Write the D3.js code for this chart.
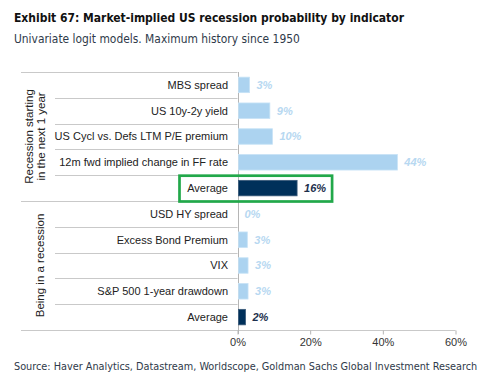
<!DOCTYPE html>
<html>
<head>
<meta charset="utf-8">
<script src="https://cdn.jsdelivr.net/npm/d3@7"></script>
<style>
  body { margin: 0; background: #fff; }
  svg { display: block; }
</style>
</head>
<body>
<div id="chart"></div>
<script>
// data
var groups = ["Recession starting|in the next 1 year", "Being in a recession"];
var categories = ["MBS spread", "US 10y-2y yield", "US Cycl vs. Defs LTM P/E premium",
  "12m fwd implied change in FF rate", "Average",
  "USD HY  spread", "Excess Bond Premium", "VIX", "S&P 500 1-year drawdown", "Average"];
var values = [3.3, 8.9, 9.6, 44.0, 16.4, 0, 2.7, 2.9, 2.9, 2.2];
var groupIndex = [0, 0, 0, 0, 0, 1, 1, 1, 1, 1];
var isAverage = [false, false, false, false, true, false, false, false, false, true];
var tickValues = [0, 20, 40, 60];

var width = 493, height = 376;
var light = "#acd3f0", dark = "#00305a";
var narrow = "'Liberation Sans Narrow', 'DejaVu Sans Condensed', Roboto, sans-serif";

var svg = d3.select("#chart").append("svg")
  .attr("width", width)
  .attr("height", height);

// put a text in and shrink/grow its font so it spans the wanted width
function fitText(str, xPos, yPos, targetW, size, weight, fill) {
  var t = svg.append("text")
    .attr("x", xPos).attr("y", yPos)
    .style("font-family", narrow)
    .style("font-size", size + "px").style("font-weight", weight)
    .attr("fill", fill)
    .text(str);
  var w = t.node().getComputedTextLength();
  if (w > 0) t.style("font-size", (size * targetW / w).toFixed(2) + "px");
  return t;
}

// titles
fitText("Exhibit 67: Market-implied US recession probability by indicator", 14, 22, 390, 15, 700, "#111");
fitText("Univariate logit models. Maximum history since 1950", 14, 43, 286, 13, 400, "#2f3a4a");
fitText("Source: Haver Analytics, Datastream, Worldscope, Goldman Sachs Global Investment Research", 14, 370, 464, 12, 400, "#2f3a4a");

// scales
var keys = categories.map((c, i) => i);
var x = d3.scaleLinear().domain([0, 60]).range([237.5, 455.5]);
var y = d3.scaleBand().domain(keys).range([72, 330]).paddingInner(0.4).paddingOuter(0.2);
var step = y.step();
var rowTop = i => 72 + i * step;

var font = "'Liberation Sans', Arial, sans-serif";

// row separators
var grid = svg.append("g").attr("stroke", "#c9c9c9").attr("stroke-width", 1);
for (var i = 0; i <= categories.length; i++) {
  var yy = Math.round(rowTop(i)) + 0.5;
  var groupEdge = i === 0 || i === categories.length || groupIndex[i] !== groupIndex[i - 1];
  grid.append("line")
    .attr("x1", groupEdge ? 21 : 55)
    .attr("x2", i === categories.length ? x(60) : x(0))
    .attr("y1", yy).attr("y2", yy);
}

// x axis ticks and labels
var axis = svg.append("g")
  .attr("transform", `translate(0, ${Math.round(rowTop(categories.length)) + 0.5})`)
  .call(d3.axisBottom(x).tickValues(tickValues).tickSize(4).tickPadding(4)
    .tickFormat(d => d + "%"));
axis.select(".domain").remove();
axis.selectAll(".tick line").attr("stroke", "#b5b5b5");
axis.selectAll(".tick text")
  .style("font-family", font).style("font-size", "11px").attr("fill", "#333");

// vertical zero line
svg.append("line")
  .attr("x1", Math.round(x(0)) + 0.5).attr("x2", Math.round(x(0)) + 0.5)
  .attr("y1", 72).attr("y2", rowTop(categories.length) + 4)
  .attr("stroke", "#b5b5b5");

// bars
svg.selectAll("rect.bar")
  .data(keys)
  .enter()
  .append("rect")
    .attr("class", "bar")
    .attr("x", x(0) + 1)
    .attr("y", i => y(i))
    .attr("width", i => Math.max(0, x(values[i]) - x(0) - 1))
    .attr("height", y.bandwidth())
    .attr("fill", i => isAverage[i] ? dark : light)
    .attr("stroke", i => isAverage[i] ? "#3a5a7a" : "#c6e2f6")
    .attr("stroke-width", 0.8);

// value labels
svg.selectAll("text.value")
  .data(keys)
  .enter()
  .append("text")
    .attr("class", "value")
    .attr("x", i => x(values[i]) + 7)
    .attr("y", i => y(i) + y.bandwidth() / 2)
    .attr("dy", "0.35em")
    .style("font-family", font).style("font-size", "11px")
    .style("font-weight", "700").style("font-style", "italic")
    .attr("fill", i => isAverage[i] ? "#1c2f4c" : "#b7d8f1")
    .text(i => d3.format(".0%")(values[i] / 100));

// category labels
svg.selectAll("text.cat")
  .data(keys)
  .enter()
  .append("text")
    .attr("class", "cat")
    .attr("x", 228)
    .attr("y", i => y(i) + y.bandwidth() / 2)
    .attr("dy", "0.35em")
    .attr("text-anchor", "end")
    .style("font-family", font).style("font-size", "11px")
    .attr("fill", "#222")
    .text(i => categories[i]);

// group labels (rotated)
groups.forEach(function(g, gi) {
  var rows = keys.filter(i => groupIndex[i] === gi);
  var cy = (rowTop(rows[0]) + rowTop(rows[rows.length - 1] + 1)) / 2;
  var lines = g.split("|");
  var t = svg.append("text")
    .attr("transform", `translate(0, ${cy}) rotate(-90)`)
    .attr("text-anchor", "middle")
    .style("font-family", font).style("font-size", "11.5px")
    .attr("fill", "#222");
  lines.forEach(function(l, li) {
    t.append("tspan")
      .attr("x", 0)
      .attr("y", lines.length === 1 ? 44 : 33 + li * 12)
      .text(l);
  });
});

// green highlight round the first Average row
var hi = 4;
svg.append("rect")
  .attr("x", 179.5)
  .attr("y", rowTop(hi) + 0.5)
  .attr("width", x(values[hi]) + 35 - 179.5)
  .attr("height", step)
  .attr("fill", "none")
  .attr("stroke", "#22a84a")
  .attr("stroke-width", 2.7);
</script>
</body>
</html>
